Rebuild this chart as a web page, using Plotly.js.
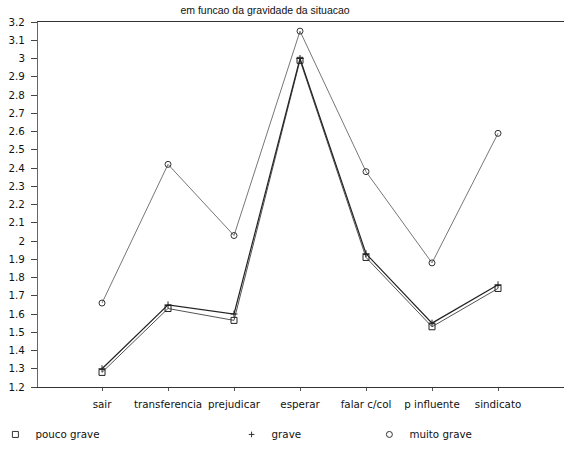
<!DOCTYPE html>
<html>
<head>
<meta charset="utf-8">
<script src="https://cdn.plot.ly/plotly-3.0.1.min.js"></script>
<style>html,body{margin:0;padding:0;background:#fff;}#chart{width:564px;height:449px;}</style>
</head>
<body>
<div id="chart"></div>
<script>
const categories = ["sair", "transferencia", "prejudicar", "esperar", "falar c/col", "p influente", "sindicato"];
const poucoGrave = [1.28, 1.63, 1.565, 2.99, 1.91, 1.53, 1.74];
const grave      = [1.30, 1.65, 1.60, 3.00, 1.93, 1.55, 1.76];
const muitoGrave = [1.66, 2.42, 2.03, 3.15, 2.38, 1.88, 2.59];
const yTicks = [1.2, 1.3, 1.4, 1.5, 1.6, 1.7, 1.8, 1.9, 2, 2.1, 2.2, 2.3, 2.4, 2.5, 2.6, 2.7, 2.8, 2.9, 3, 3.1, 3.2];
const seriesNames = ["pouco grave", "grave", "muito grave"];

const font = {family: "DejaVu Sans, Verdana, sans-serif", size: 10.3, color: "#111"};

const traces = [
  {x: categories, y: poucoGrave, mode: "lines+markers", showlegend: false,
   line: {color: "#555", width: 1}, marker: {symbol: "square-open", size: 6, color: "#222"}},
  {x: categories, y: grave, mode: "lines+markers", showlegend: false,
   line: {color: "#222", width: 1.2}, marker: {symbol: "cross-thin-open", size: 5, color: "#222", line: {width: 1, color: "#222"}}},
  {x: categories, y: muitoGrave, mode: "lines+markers", showlegend: false,
   line: {color: "#666", width: 0.9}, marker: {symbol: "circle-open", size: 6, color: "#333"}},
  {x: [null], y: [null], mode: "markers", name: seriesNames[0], legend: "legend",
   marker: {symbol: "square-open", size: 6, color: "#333"}},
  {x: [null], y: [null], mode: "markers", name: seriesNames[1], legend: "legend2",
   marker: {symbol: "cross-thin-open", size: 4, color: "#333", line: {width: 1, color: "#333"}}},
  {x: [null], y: [null], mode: "markers", name: seriesNames[2], legend: "legend3",
   marker: {symbol: "circle-open", size: 6, color: "#333"}}
];

const legendBase = {orientation: "h", xanchor: "left", yanchor: "middle", bgcolor: "rgba(0,0,0,0)", font: font};

const layout = {
  width: 564, height: 449,
  margin: {l: 38, r: 0, t: 22, b: 62, autoexpand: false},
  paper_bgcolor: "#fff", plot_bgcolor: "#fff",
  font: font,
  title: {text: "em funcao da gravidade da situacao", font: {family: "Liberation Sans, Arial, sans-serif", size: 10.5, color: "#111"},
          x: 0.47, xanchor: "center", y: 0.985, yanchor: "top"},
  xaxis: {type: "category", range: [-0.97, 7.0], showgrid: false, zeroline: false, automargin: false,
          showline: true, mirror: true, linecolor: "#333", linewidth: 1,
          ticks: "outside", ticklen: 3, tickcolor: "#555", ticklabelstandoff: 5, tickfont: font, fixedrange: true},
  yaxis: {range: [1.2, 3.2], tickvals: yTicks, ticktext: yTicks.map(String), showgrid: false, zeroline: false, automargin: false,
          showline: true, linecolor: "#666", linewidth: 1, ticks: "outside", ticklen: 6, tickcolor: "#444",
          ticklabelstandoff: 4, tickfont: font, fixedrange: true},
  legend:  Object.assign({}, legendBase, {x: -0.081, y: -0.13}),
  legend2: Object.assign({}, legendBase, {x: 0.368, y: -0.13}),
  legend3: Object.assign({}, legendBase, {x: 0.63, y: -0.13}),
  showlegend: true
};

Plotly.newPlot("chart", traces, layout, {displayModeBar: false, staticPlot: true});
</script>
</body>
</html>
